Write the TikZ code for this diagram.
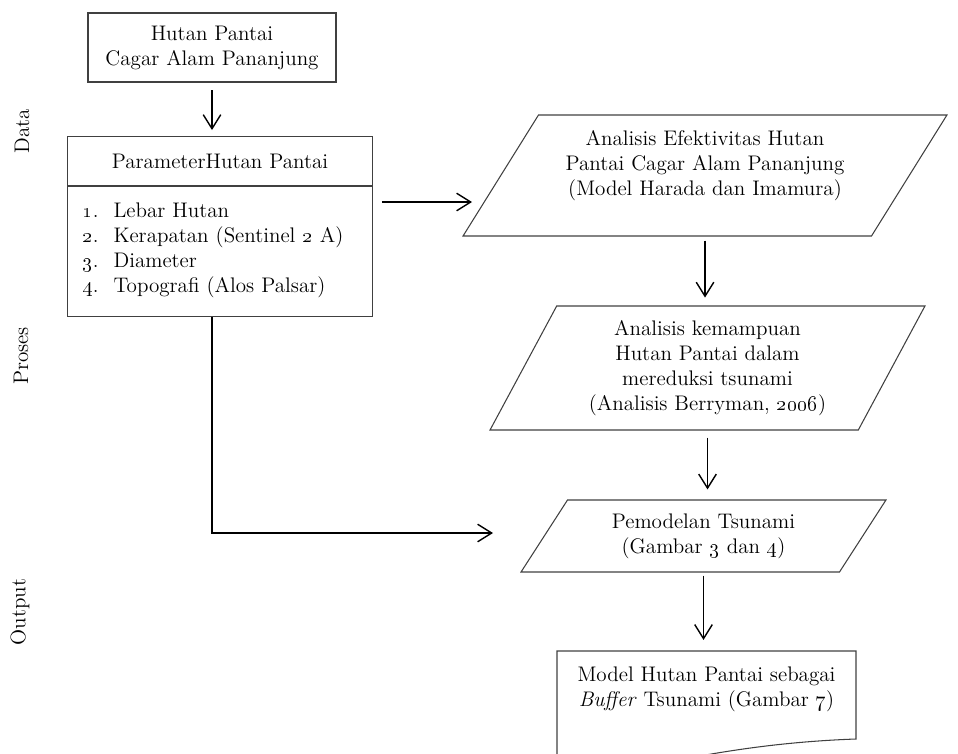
\documentclass[tikz,border=0pt]{standalone}
\usepackage{tikz}
\usetikzlibrary{positioning, arrows.meta, shapes.geometric}

\begin{document}
\begin{tikzpicture}[x=0.02cm, y=-0.02cm, font=\fontsize{12}{14.2}\selectfont,
	kotak/.style={draw=black!75, line width=0.6pt, align=center, inner sep=0pt},
	jajar/.style={trapezium, trapezium stretches body, draw=black!75, line width=0.6pt, align=center, inner sep=0pt},
	panah/.style={-{Straight Barb[length=8pt,width=10pt]}, line width=0.8pt}]
	\useasboundingbox (0,0) rectangle (958,754);
	\clip (0,0) rectangle (958,754);

	% label samping
	\node[rotate=90] (data) at (22,131) {Data};
	\node[rotate=90] (proses) at (21,356) {Proses};
	\node[rotate=90] (output) at (20,612) {Output};

	% kotak data
	\node[kotak, minimum width=4.96cm, minimum height=1.38cm] (hutan) at (212,47.5) {Hutan Pantai\\Cagar Alam Pananjung};
	\node[kotak, minimum width=6.1cm, minimum height=0.98cm, anchor=north west] (param) at (67,136) {ParameterHutan Pantai};
	\node[kotak, minimum width=6.1cm, minimum height=2.6cm, below=0pt of param, align=left, inner xsep=0.3cm, text width=5.5cm] (paramlist) {%
		\makebox[0.62cm][l]{\oldstylenums{1}.}Lebar Hutan\\
		\makebox[0.62cm][l]{\oldstylenums{2}.}Kerapatan (Sentinel \oldstylenums{2} A)\\
		\makebox[0.62cm][l]{\oldstylenums{3}.}Diameter\\
		\makebox[0.62cm][l]{\oldstylenums{4}.}Topografi (Alos Palsar)\\[-9.5pt]\mbox{}};

	% proses
	\node[jajar, trapezium left angle=50, trapezium right angle=130, minimum width=9.68cm, minimum height=2.42cm] (efektif) at (705,175.5) {Analisis Efektivitas Hutan\\Pantai Cagar Alam Pananjung\\(Model Harada dan Imamura)\\\mbox{}};
	\node[jajar, trapezium left angle=55, trapezium right angle=125, minimum width=8.7cm, minimum height=2.48cm] (reduksi) at (707.5,368) {Analisis kemampuan\\Hutan Pantai dalam\\mereduksi tsunami\\(Analisis Berryman, \oldstylenums{2006})};
	\node[jajar, trapezium left angle=44, trapezium right angle=136, minimum width=7.3cm, minimum height=1.44cm] (pemodelan) at (703.5,536) {Pemodelan Tsunami\\(Gambar \oldstylenums{3} dan \oldstylenums{4})};

	% output
	\node[align=center] (model) at (706.5,689) {Model Hutan Pantai sebagai\\\textit{Buffer} Tsunami (Gambar \oldstylenums{7})};
	\draw[draw=black!75, line width=0.6pt] (557,780) -- (557,651) -- (856,651) -- (856,739)
		.. controls (800,741) and (750,747) .. (700,756) .. controls (650,765) and (600,768) .. (557,765);

	\coordinate (a2) at (472,202);
	\coordinate (a3) at (493,533);
	\coordinate (dok) at (703,651);

	\draw[panah, shorten <=4.5pt, shorten >=3.4pt] (hutan.south) -- (hutan.south |- param.north);
	\draw[panah, shorten <=5pt] (a2 -| paramlist.east) -- (a2);
	\draw[panah] (hutan.south |- paramlist.south) |- (a3);
	\draw[panah, shorten <=2.3pt, shorten >=4.5pt] (efektif.south) -- (efektif.south |- reduksi.north);
	\draw[panah, shorten <=4pt, shorten >=5.7pt] (reduksi.south) -- (reduksi.south |- pemodelan.north);
	\draw[panah, shorten <=1.7pt, shorten >=6.3pt] (pemodelan.south) -- (pemodelan.south |- dok);

\end{tikzpicture}
\end{document}
